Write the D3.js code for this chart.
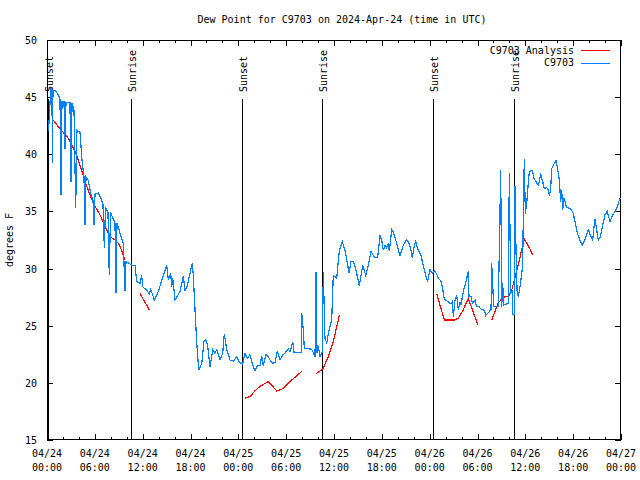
<!DOCTYPE html>
<html><head><meta charset="utf-8">
<script src="https://cdn.jsdelivr.net/npm/d3@7"></script>
<style>
body{margin:0;background:#fff;}
text{font-family:"DejaVu Sans Mono","Liberation Mono",monospace;font-size:10px;fill:#000;}
</style></head><body>
<svg id="c" width="640" height="480"></svg>
<script>
// hours since 2024-04-24 00:00 UTC
const obsHours = [0.19,0.38,0.50,0.63,0.66,0.75,1.00,1.42,1.63,1.76,1.88,2.13,2.26,2.38,2.88,3.01,3.14,3.39,3.60,3.76,4.14,4.39,4.64,4.77,4.89,5.18,5.52,5.77,5.90,6.02,6.43,6.86,7.02,7.19,7.34,7.65,7.81,7.97,8.53,8.66,8.78,9.16,9.57,9.78,9.91,10.20,10.62,11.04,11.25,11.67,11.88,12.00,12.51,12.83,13.01,13.46,13.96,14.59,15.01,15.22,15.52,15.64,15.77,16.06,16.27,16.68,17.10,17.31,17.60,17.94,18.23,18.35,18.56,18.78,19.03,19.41,19.69,19.91,20.16,20.45,20.79,21.07,21.29,21.70,22.04,22.24,22.54,22.96,23.37,23.80,24.12,24.55,24.84,25.13,25.46,25.88,26.09,26.38,26.72,26.93,27.13,27.47,27.76,27.97,28.31,28.60,28.89,29.23,29.57,29.85,30.27,30.48,30.82,30.98,31.32,31.90,31.95,32.15,32.28,33.20,33.62,33.74,33.87,34.03,34.24,34.53,34.66,34.87,35.09,35.29,35.71,35.91,36.34,36.67,37.04,37.38,37.72,37.88,38.13,38.42,38.72,38.97,39.17,39.39,39.60,39.98,40.30,40.64,41.06,41.48,41.77,41.98,42.19,42.40,42.61,42.81,42.94,43.24,43.44,43.87,44.28,44.69,45.12,45.41,45.66,45.82,46.04,46.25,46.57,46.91,47.13,47.42,47.75,48.04,48.33,48.67,48.88,49.08,49.42,49.59,49.84,50.34,50.68,50.84,50.97,51.18,51.39,51.59,51.81,51.93,52.22,52.56,52.85,52.93,53.19,53.35,53.69,53.90,54.19,54.53,54.85,55.03,55.70,55.78,55.91,56.03,56.61,56.91,57.04,57.16,57.29,57.86,57.99,58.17,58.37,58.42,58.62,58.71,58.83,58.96,59.12,59.33,59.55,59.67,59.75,59.87,60.00,60.17,60.37,60.50,60.88,61.09,61.34,61.63,61.93,62.18,62.38,62.68,62.93,63.01,63.18,63.31,63.60,63.85,64.01,64.26,64.44,64.56,64.69,64.85,65.19,65.69,66.02,66.23,66.52,66.86,67.15,67.49,67.90,68.20,68.45,68.62,68.74,68.95,69.15,69.37,69.71,69.99,70.28,70.62,70.96,71.25,71.54,71.79,71.94];
const obsValues = [42.0,44.5,45.8,45.5,39.2,45.6,45.6,45.2,44.8,36.4,44.6,44.6,40.5,44.5,44.5,37.6,44.5,43.8,35.3,42.1,41.9,39.5,38.0,33.8,38.0,37.7,36.5,36.0,33.8,36.5,36.6,36.0,35.6,31.8,35.4,34.9,29.4,34.9,34.0,27.9,34.0,33.1,32.2,28.0,30.6,30.5,30.3,30.3,28.85,28.7,29.4,28.4,28.1,27.8,28.2,27.25,28.0,29.4,30.3,29.0,29.6,28.4,29.2,27.25,27.5,28.0,29.35,28.1,28.5,29.6,30.45,29.4,26.5,23.5,21.1,21.7,23.6,23.8,23.2,21.4,22.9,22.6,22.9,22.0,22.6,24.3,22.9,22.0,21.9,22.3,21.8,21.65,22.6,22.15,22.45,21.4,21.1,21.5,21.5,22.35,21.5,22.45,22.3,22.0,21.7,21.8,22.8,22.0,22.45,22.6,23.0,22.7,23.6,22.7,22.65,22.65,26.1,24.6,23.0,22.95,22.3,29.7,22.6,23.2,22.3,22.7,29.7,23.9,23.5,24.3,25.5,29.4,29.15,31.6,32.35,31.6,30.3,29.6,30.6,30.6,30.0,29.15,28.5,29.4,30.3,29.4,30.3,31.5,31.0,31.0,32.9,32.5,31.6,32.05,31.8,32.2,31.5,33.4,33.2,32.2,31.1,32.05,32.55,32.2,31.6,30.9,31.9,32.35,31.6,31.2,30.45,29.6,28.85,29.9,29.6,29.8,29.5,29.15,28.9,28.4,27.3,27.1,26.9,27.1,25.8,27.25,27.7,26.4,27.1,26.8,28.0,28.85,29.8,27.55,27.55,26.95,27.25,26.65,26.65,26.4,26.35,25.9,26.4,30.45,28.55,26.65,26.65,38.6,26.65,28.7,26.8,26.95,38.35,27.8,28.1,26.0,26.0,37.2,31.6,28.1,27.55,28.4,29.6,30.2,35.1,39.55,34.8,35.7,37.45,38.5,38.6,37.9,37.6,37.3,38.2,37.6,37.0,37.1,36.8,36.35,37.0,38.75,39.15,39.45,38.9,37.75,35.85,36.9,35.1,36.15,35.35,35.25,34.8,34.1,33.1,32.45,32.05,32.55,33.4,32.85,32.5,33.65,34.3,33.4,32.5,32.7,33.8,34.7,35.0,34.1,34.7,35.0,35.4,36.0,36.2];
// analysis series; null marks a gap between segments
const anaHours = [0.79,1.42,2.06,2.67,3.10,3.74,4.35,4.98,5.81,6.65,7.49,7.90,8.53,8.95,9.37,9.78,null,
  11.67,12.83,null,
  24.84,25.46,26.09,26.72,27.76,28.81,29.64,30.70,31.95,null,
  33.74,34.58,35.29,35.91,36.67,null,
  48.88,49.84,51.09,51.59,52.22,52.85,53.35,54.03,null,
  55.78,56.61,57.24,57.87,58.29,58.83,59.33,59.87,60.59,60.93];
const anaValues = [43.0,42.4,41.9,41.4,40.8,39.9,38.6,37.2,35.7,34.7,33.4,32.8,32.5,32.2,31.6,30.75,null,
  27.8,26.4,null,
  18.65,18.8,19.3,19.7,20.1,19.3,19.5,20.25,21.0,null,
  20.8,21.2,22.3,23.6,25.9,null,
  27.8,25.5,25.5,25.65,26.4,27.4,26.4,25.1,null,
  25.5,27.0,27.5,27.55,28.1,29.6,31.0,32.6,31.7,31.2];
const sunLabels = ["Sunset","Sunrise","Sunset","Sunrise","Sunset","Sunrise"];
const sunHours = [0.16,10.54,24.42,34.53,48.46,58.62];
const yTicks = [15,20,25,30,35,40,45,50];
const xTickHours = [0,6,12,18,24,30,36,42,48,54,60,66,72];
const xTickLabels = ["04/24|00:00","04/24|06:00","04/24|12:00","04/24|18:00","04/25|00:00","04/25|06:00","04/25|12:00","04/25|18:00","04/26|00:00","04/26|06:00","04/26|12:00","04/26|18:00","04/27|00:00"];
const seriesNames = ["C9703 Analysis","C9703"];
const seriesColors = ["#ff0000","#0080ff"];
const titleText = "Dew Point for C9703 on 2024-Apr-24 (time in UTC)";
const yLabel = "degrees F";

const svg = d3.select("#c");
const L=47,R=621,T=40,B=440;
const base = Date.UTC(2024,3,24,0,0);
const toDate = h => new Date(base + h*3600000);
const x = d3.scaleUtc().domain([toDate(0),toDate(72)]).range([L,R]);
const y = d3.scaleLinear().domain([15,50]).range([B,T]);

svg.append("text").attr("x",(L+R)/2+8).attr("y",23).attr("text-anchor","middle").text(titleText);
svg.append("text").attr("transform","translate(13,"+((T+B)/2)+") rotate(-90)").attr("text-anchor","middle").text(yLabel);

const yl = svg.append("g").attr("transform","translate("+L+",0)")
  .call(d3.axisLeft(y).tickValues(yTicks).tickSize(-6).tickPadding(10).tickFormat(d3.format("d")));
svg.append("g").attr("transform","translate("+R+",0)")
  .call(d3.axisRight(y).tickValues(yTicks).tickSize(-6).tickFormat(""));
const minor = d3.range(0,73,2).map(toDate);
svg.append("g").attr("transform","translate(0,"+B+")").call(d3.axisBottom(x).tickValues(minor).tickSize(-3).tickFormat(""));
svg.append("g").attr("transform","translate(0,"+T+")").call(d3.axisTop(x).tickValues(minor).tickSize(-3).tickFormat(""));
svg.append("g").attr("transform","translate(0,"+B+")")
  .call(d3.axisBottom(x).tickValues(xTickHours.map(toDate)).tickSize(-6).tickFormat(""));
svg.append("g").attr("transform","translate(0,"+T+")")
  .call(d3.axisTop(x).tickValues(xTickHours.map(toDate)).tickSize(-6).tickFormat(""));
svg.selectAll(".domain").remove();
svg.selectAll(".tick line").attr("stroke","#000").attr("shape-rendering","crispEdges");
yl.selectAll("text").attr("font-family","DejaVu Sans Mono").attr("font-size",10).attr("dy","0.35em");
const xl = svg.append("g");
xTickHours.forEach((h,i)=>{
  const parts = xTickLabels[i].split("|");
  const t = xl.append("text").attr("text-anchor","middle");
  t.append("tspan").attr("x",x(toDate(h))).attr("y",457).text(parts[0]);
  t.append("tspan").attr("x",x(toDate(h))).attr("y",471).text(parts[1]);
});
svg.append("rect").attr("x",L+0.5).attr("y",T+0.5).attr("width",R-L-1).attr("height",B-T-1)
  .attr("fill","none").attr("stroke","#000").attr("shape-rendering","crispEdges");

sunHours.forEach((h,i)=>{
  const xp = Math.round(x(toDate(h)))+0.5;
  svg.append("line").attr("x1",xp).attr("x2",xp).attr("y1",99).attr("y2",B)
    .attr("stroke","#000").attr("shape-rendering","crispEdges");
  svg.append("text").attr("transform","translate("+(xp+4)+",92) rotate(-90)").attr("text-anchor","start").text(sunLabels[i]);
});

const line = d3.line().defined(d=>d[1]!==null).x(d=>x(toDate(d[0]))).y(d=>y(d[1]));
const obs = obsHours.map((h,i)=>[h,obsValues[i]]);
const ana = anaHours.map((h,i)=>[h,anaValues[i]]);
svg.append("path").attr("d",line(ana)).attr("fill","none").attr("stroke",seriesColors[0]).attr("stroke-width",1.2).attr("shape-rendering","crispEdges");
svg.append("path").attr("d",line(obs)).attr("fill","none").attr("stroke",seriesColors[1]).attr("stroke-width",1.2).attr("shape-rendering","crispEdges");

seriesNames.forEach((n,i)=>{
  const yy = 50 + i*12.5;
  svg.append("text").attr("x",574).attr("y",yy).attr("dy","0.35em").attr("text-anchor","end").text(n);
  svg.append("line").attr("x1",581).attr("x2",610).attr("y1",Math.round(yy)+0.5).attr("y2",Math.round(yy)+0.5)
    .attr("stroke",seriesColors[i]).attr("stroke-width",1).attr("shape-rendering","crispEdges");
});
</script></body></html>
